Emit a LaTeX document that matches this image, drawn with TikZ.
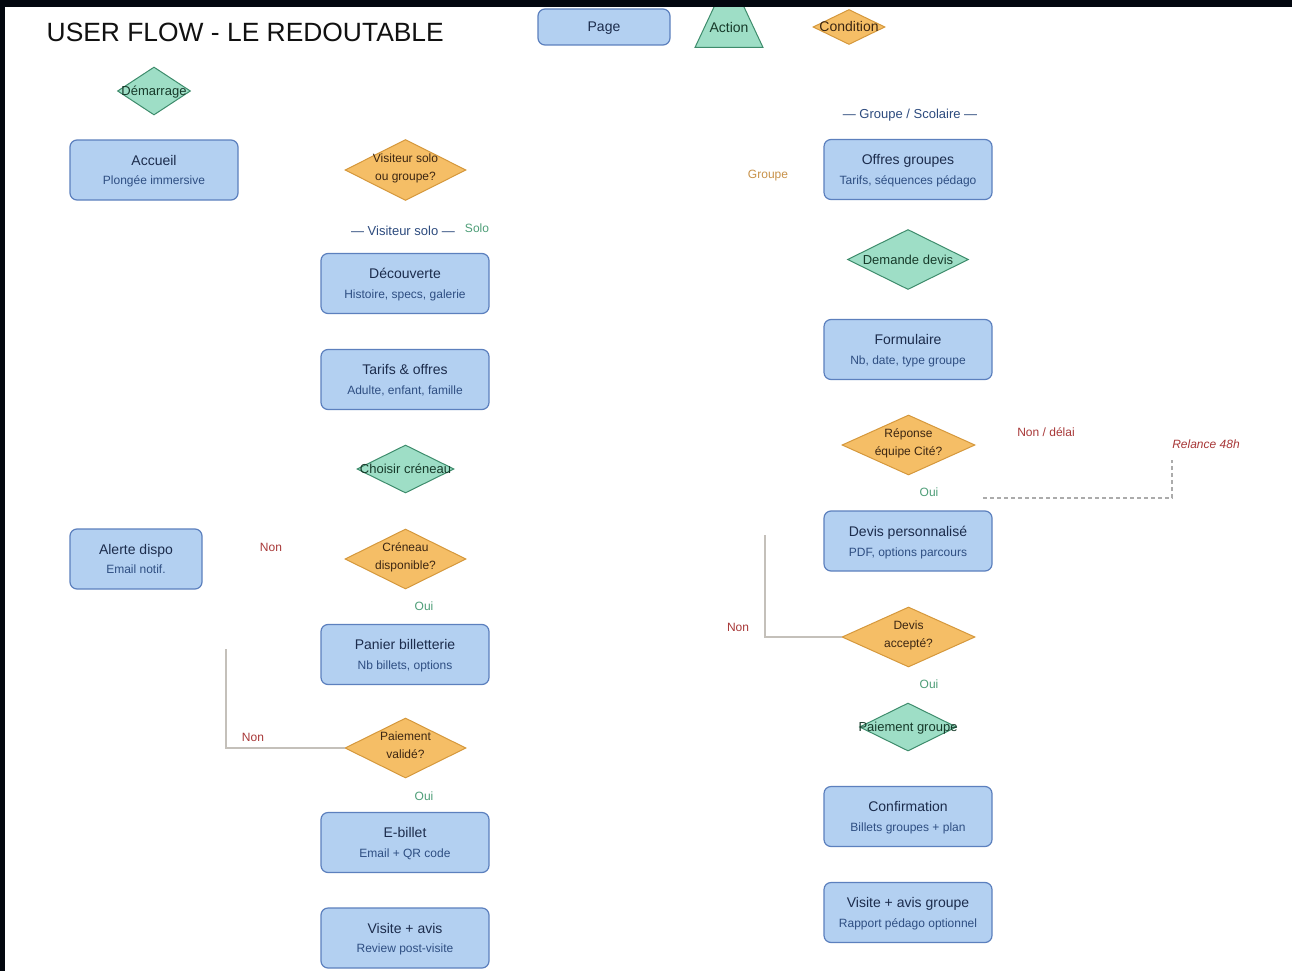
\documentclass[tikz,border=0pt]{standalone}
\usepackage{fontspec}
\setmainfont{Liberation Sans}
\usetikzlibrary{shapes.geometric}

\definecolor{framecol}{HTML}{03070F}
\definecolor{titletext}{HTML}{111111}
\definecolor{pagefill}{HTML}{B3D0F1}
\definecolor{pageline}{HTML}{5C80BE}
\definecolor{pagetext}{HTML}{1C2C4C}
\definecolor{subtext}{HTML}{2E4E82}
\definecolor{condfill}{HTML}{F5BE66}
\definecolor{condline}{HTML}{D5983C}
\definecolor{condtext}{HTML}{3C2612}
\definecolor{actfill}{HTML}{9EDEC6}
\definecolor{actline}{HTML}{3E8C6C}
\definecolor{acttext}{HTML}{173A2A}
\definecolor{nonred}{HTML}{A83838}
\definecolor{ouigreen}{HTML}{4E9E78}
\definecolor{groupebrown}{HTML}{C8924A}
\definecolor{sectionblue}{HTML}{2D4B7E}
\definecolor{retourgrey}{HTML}{C4C0BA}
\definecolor{relancegrey}{HTML}{ABABAB}

\newcommand{\pg}[2]{\rule{0pt}{10pt}#1\\{\fontsize{12}{19.8}\selectfont\color{subtext}\smash{#2}}}
\newcommand{\cq}[2]{\rule{0pt}{9.5pt}#1\\\smash{#2}\rule[-7pt]{0pt}{7pt}}

\tikzset{
  pagebox/.style={draw=pageline, fill=pagefill, rounded corners=7pt, line width=1.2pt,
    minimum width=168pt, minimum height=60pt, align=center, text=pagetext,
    font=\fontsize{14}{19.8}\selectfont},
  condbox/.style 2 args={diamond, draw=condline, fill=condfill, line width=1pt,
    minimum width=#1, minimum height=#2, inner sep=0pt},
  actbox/.style 2 args={diamond, draw=actline, fill=actfill, line width=1pt,
    minimum width=#1, minimum height=#2, inner sep=0pt},
  condlbl/.style={inner sep=0pt, align=center, text=condtext,
    font=\fontsize{12}{18}\selectfont},
  actlbl/.style={inner sep=0pt, text=acttext, text height=9.3pt, text depth=0pt,
    font=\fontsize{13}{15}\selectfont},
  ouilbl/.style={inner sep=0pt, text=ouigreen, text height=8.6pt, text depth=0pt,
    font=\fontsize{12}{14}\selectfont},
  nonlbl/.style={inner sep=0pt, text=nonred, text height=8.6pt, text depth=0pt,
    font=\fontsize{12}{14}\selectfont},
  sectionlbl/.style={inner sep=0pt, text=sectionblue, text height=9.3pt, text depth=0pt,
    font=\fontsize{13}{15}\selectfont},
  retour/.style={draw=retourgrey, line width=1.5pt},
  relancetrait/.style={draw=relancegrey, line width=1.2pt, dash pattern=on 4pt off 3pt}
}

\begin{document}
\begin{tikzpicture}[x=1pt, y=-1pt]
    \useasboundingbox (0, 0) rectangle (1292, 971);
    \fill[white] (0, 0) rectangle (1292, 971);

    \node[anchor=west, inner sep=0pt, text=titletext, font=\fontsize{26.4}{30}\selectfont] (titre) at (46.5, 32.5){USER FLOW - LE REDOUTABLE};

    \node[pagebox, minimum width=132pt, minimum height=36pt, text height=10pt, text depth=0pt] (legpage) at (604, 27){Page};
    \filldraw[draw=actline, fill=actfill, line width=1pt] (729, -25) -- (763, 47.5) -- (695, 47.5) -- cycle;
    \node[actlbl, text height=10pt, font=\fontsize{14}{16}\selectfont] (legaction) at (729, 28){Action};
    \node[condbox={72pt}{35pt}, label={[condlbl, text height=10pt, text depth=0pt, font=\fontsize{14}{16}\selectfont]center:Condition}] (legcond) at (849, 27){};

    \node[actbox={73pt}{48pt}, label={[actlbl]center:Démarrage}] (demarrage) at (154, 91){};
    \node[pagebox] (accueil) at (154, 170){\pg{Accueil}{Plongée immersive}};
    \node[condbox={121pt}{61pt}, label={[condlbl]center:{\cq{Visiteur solo}{ou groupe?}}}] (visiteur) at (405.5, 170){};

    \node[sectionlbl] (solotitre) at (403, 231){— Visiteur solo —};
    \node[ouilbl] (solo) at (477, 228.5){Solo};
    \node[pagebox] (decouverte) at (405, 283.5){\pg{Découverte}{Histoire, specs, galerie}};
    \node[pagebox] (tarifs) at (405, 379.5){\pg{Tarifs \& offres}{Adulte, enfant, famille}};
    \node[actbox={97pt}{48pt}, label={[actlbl]center:Choisir créneau}] (choisir) at (405.5, 469){};
    \node[condbox={121pt}{60pt}, label={[condlbl]center:{\cq{Créneau}{disponible?}}}] (creneau) at (405.5, 559){};
    \node[nonlbl] (nonalerte) at (271, 547){Non};
    \node[pagebox, minimum width=132pt] (alerte) at (136, 559){\pg{Alerte dispo}{Email notif.}};
    \node[ouilbl] (ouicreneau) at (424, 606){Oui};
    \node[pagebox] (panier) at (405, 654.5){\pg{Panier billetterie}{Nb billets, options}};
    \node[condbox={121pt}{60pt}, label={[condlbl]center:{\cq{Paiement}{validé?}}}] (paiement) at (405.5, 748){};
    \node[nonlbl] (nonpaiement) at (253, 737){Non};
    \node[ouilbl] (ouipaiement) at (424, 796){Oui};
    \node[pagebox] (ebillet) at (405, 842.5){\pg{E-billet}{Email + QR code}};
    \node[pagebox] (visite) at (405, 938){\pg{Visite + avis}{Review post-visite}};

    \node[sectionlbl] (groupetitre) at (910, 114){— Groupe / Scolaire —};
    \node[ouilbl, text=groupebrown] (groupe) at (768, 174){Groupe};
    \node[pagebox] (offres) at (908, 169.5){\pg{Offres groupes}{Tarifs, séquences pédago}};
    \node[actbox={121pt}{60pt}, label={[actlbl]center:Demande devis}] (demande) at (908, 259.5){};
    \node[pagebox] (formulaire) at (908, 349.5){\pg{Formulaire}{Nb, date, type groupe}};
    \node[condbox={133pt}{60pt}, label={[condlbl]center:{\cq{Réponse}{équipe Cité?}}}] (reponse) at (908.5, 445){};
    \node[nonlbl] (nondelai) at (1046, 432){Non / délai};
    \node[nonlbl, font=\fontsize{12}{14}\selectfont\itshape] (relance) at (1206, 444){Relance 48h};
    \node[ouilbl] (ouireponse) at (929, 492){Oui};
    \node[pagebox] (devisperso) at (908, 541){\pg{Devis personnalisé}{PDF, options parcours}};
    \node[condbox={133pt}{60pt}, label={[condlbl]center:{\cq{Devis}{accepté?}}}] (accepte) at (908.5, 637){};
    \node[nonlbl] (nondevis) at (738, 627){Non};
    \node[ouilbl] (ouidevis) at (929, 684){Oui};
    \node[actbox={97pt}{48pt}, label={[actlbl]center:Paiement groupe}] (paiementgrp) at (908, 727){};
    \node[pagebox] (confirmation) at (908, 816.5){\pg{Confirmation}{Billets groupes + plan}};
    \node[pagebox] (visitegrp) at (908, 912.5){\pg{Visite + avis groupe}{Rapport pédago optionnel}};

    \coordinate (retourpaie) at (226, 649);
    \coordinate (retourdevis) at (765, 535);
    \coordinate (relancedebut) at (983, 498);
    \coordinate (relancefin) at (1172, 460);
    \draw[retour] (retourpaie) |- (paiement.west);
    \draw[retour] (retourdevis) |- (accepte.west);
    \draw[relancetrait] (relancedebut) -| (relancefin);

    \fill[framecol] (0, 0) rectangle (1292, 7.5);
    \fill[framecol] (0, 0) rectangle (5, 971);
\end{tikzpicture}
\end{document}
